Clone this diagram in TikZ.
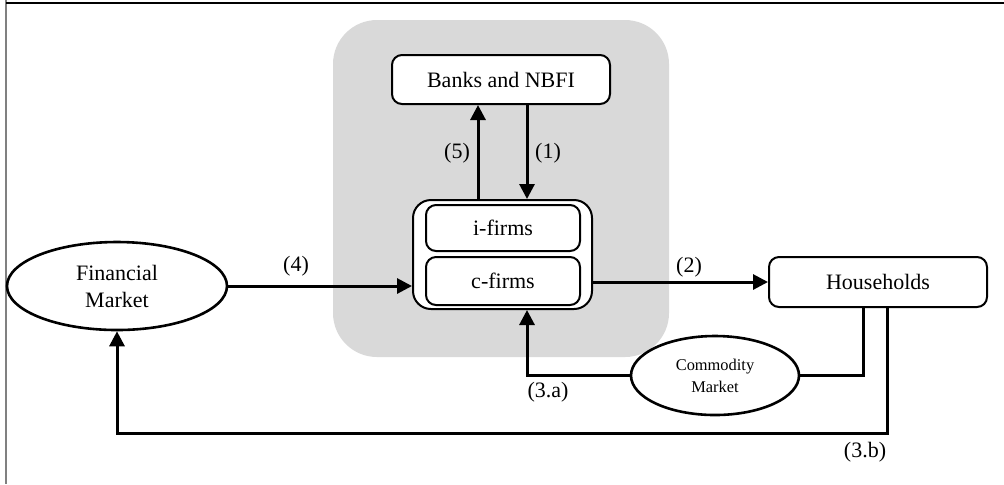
\documentclass[tikz,border=0pt]{standalone}
\usepackage{fontspec}
\setmainfont{Liberation Serif}
\usepackage{xcolor}
\usetikzlibrary{arrows.meta,shapes.geometric}

\definecolor{bggray}{HTML}{D9D9D9}

\begin{document}
\begin{tikzpicture}[x=0.5pt,y=-0.5pt,
    box/.style={draw,line width=1pt,rounded corners=5pt,fill=white,inner sep=0pt,
      font=\fontsize{11}{12}\selectfont},
    oval/.style={draw,ellipse,line width=1.3pt,fill=white,inner sep=0pt,align=center},
    flow/.style={line width=1.5pt},
    arr/.style={flow,-{Triangle[length=7.5pt,width=7.5pt]}},
    tag/.style={font=\fontsize{11}{12}\selectfont}]
    \useasboundingbox (0,0) rectangle (1004,484);
    \draw[gray,line width=1.2pt] (6,0) -- (6,484);
    \draw[line width=1pt] (6,3) -- (1004,3);
    \fill[bggray,rounded corners=22pt] (333,20) rectangle (669,357);
    % \draw[red] (0,0) grid[step=50] (1004,484);
    \node[box,minimum width=109pt,minimum height=24.5pt] (banks) at (501,79.5) {Banks and NBFI};
    \node[box,rounded corners=9pt,minimum width=89.5pt,minimum height=54.5pt] (firms) at (502.5,254.5) {};
    \node[box,minimum width=77pt,minimum height=23pt] (ifirms) at (503,228) {i-firms};
    \node[box,minimum width=77pt,minimum height=24pt] (cfirms) at (503,281) {c-firms};
    \node[box,minimum width=109pt,minimum height=25pt] (hh) at (878,282) {Households};
    \node[oval,minimum width=110pt,minimum height=44pt,
      font=\fontsize{11}{13.5}\selectfont] (fin) at (117,286) {Financial\\Market};
    \node[oval,minimum width=84pt,minimum height=39.5pt,
      font=\fontsize{8.2}{11}\selectfont] (com) at (715,375.5) {Commodity\\Market};
    \draw[arr] ([xshift=-12.25pt]firms.north) -- ([xshift=-12.25pt]firms.north |- banks.south);
    \draw[arr] ([xshift=12.25pt]firms.north |- banks.south) -- ([xshift=12.25pt]firms.north);
    \draw[arr] (fin.east) -- (fin.east -| firms.west);
    \draw[arr] (firms.east |- hh.west) -- (hh.west);
    \draw[flow] ([xshift=-7.5pt]hh.south) |- (com.east);
    \draw[arr] (com.west) -| ([xshift=12.25pt]firms.south);
    \draw[arr] ([xshift=4.5pt]hh.south) -- ++(0,125) -| (fin.south);
    \node[tag] (l5) at (457,153) {(5)};
    \node[tag] (l1) at (548,153) {(1)};
    \node[tag] (l4) at (296,266) {(4)};
    \node[tag] (l2) at (689,267) {(2)};
    \node[tag] (l3a) at (548,392) {(3.a)};
    \node[tag] (l3b) at (865,452) {(3.b)};
\end{tikzpicture}
\end{document}
